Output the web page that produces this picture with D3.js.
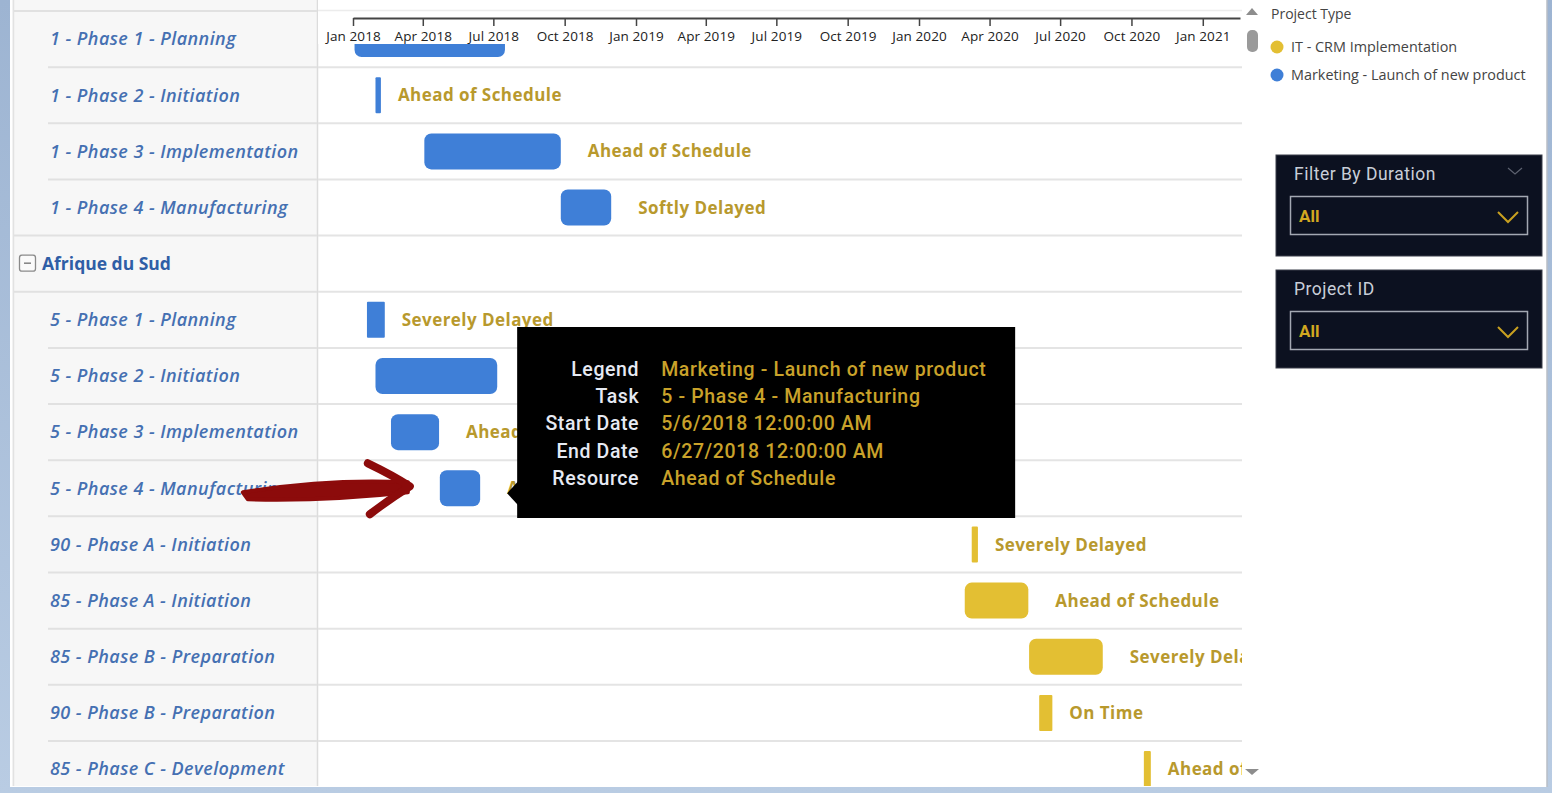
<!DOCTYPE html>
<html><head><meta charset="utf-8">
<script src="https://cdn.jsdelivr.net/npm/d3@7/dist/d3.min.js"></script>
<style>
html,body{margin:0;padding:0;background:#fff;overflow:hidden}
svg{display:block}
</style></head>
<body>
<svg id="chart" width="1552" height="793"></svg>
<script>
// ---------------- DATA ----------------
const rowLabels = [
  "1 - Phase 1 - Planning","1 - Phase 2 - Initiation","1 - Phase 3 - Implementation","1 - Phase 4 - Manufacturing",
  "Afrique du Sud",
  "5 - Phase 1 - Planning","5 - Phase 2 - Initiation","5 - Phase 3 - Implementation","5 - Phase 4 - Manufacturing",
  "90 - Phase A - Initiation","85 - Phase A - Initiation","85 - Phase B - Preparation","90 - Phase B - Preparation","85 - Phase C - Development"
];
const rowKinds = ["task","task","task","task","group","task","task","task","task","task","task","task","task","task"];
const projectTypes = ["IT - CRM Implementation","Marketing - Launch of new product"];
const rowProject = [1,1,1,1,null,1,1,1,1,0,0,0,0,0];
const startDates = ["2018-01-03","2018-01-30","2018-04-03","2018-09-26",null,"2018-01-19","2018-01-30","2018-02-19","2018-04-23","2020-03-09","2020-02-29","2020-05-22","2020-06-04","2020-10-17"];
const endDates   = ["2018-07-16","2018-02-06","2018-09-26","2018-11-30",null,"2018-02-11","2018-07-06","2018-04-22","2018-06-14","2020-03-17","2020-05-21","2020-08-25","2020-06-21","2020-10-26"];
const resources  = [null,"Ahead of Schedule","Ahead of Schedule","Softly Delayed",null,"Severely Delayed",null,"Ahead of Schedule","Ahead of Schedule","Severely Delayed","Ahead of Schedule","Severely Delayed","On Time","Ahead of Schedule"];
const axisDomain = ["2018-01-01","2021-02-18"];
const tooltipFields = ["Legend","Task","Start Date","End Date","Resource"];
const tooltipValues = ["Marketing - Launch of new product","5 - Phase 4 - Manufacturing","5/6/2018 12:00:00 AM","6/27/2018 12:00:00 AM","Ahead of Schedule"];
const tooltipRow = 8;
const filterTitles = ["Filter By Duration","Project ID"];
const filterValues = ["All","All"];

// ---------------- SETUP ----------------
const svg = d3.select("#chart");
const parse = d3.timeParse("%Y-%m-%d");
const W = 1552, H = 793;
const chartL = 318, chartR = 1242, bottom = 786;

const x = d3.scaleTime().domain(axisDomain.map(parse)).range([353, 1240]);
const y = d3.scaleBand().domain(d3.range(rowLabels.length)).range([11, 11 + 56.15 * rowLabels.length]);
const color = d3.scaleOrdinal().domain(projectTypes).range(["#e3bf33", "#3f7fd7"]);

// background frame
const defs = svg.append("defs");
const grad = defs.append("linearGradient").attr("id","frameGrad").attr("x1",0).attr("y1",0).attr("x2",0).attr("y2",1);
grad.append("stop").attr("offset","0%").attr("stop-color","#9db4d2");
grad.append("stop").attr("offset","100%").attr("stop-color","#b9cce3");
svg.append("rect").attr("width",W).attr("height",H).attr("fill","url(#frameGrad)");
svg.append("rect").attr("x",10).attr("y",0).attr("width",1537).attr("height",bottom+1).attr("fill","#ffffff");
svg.append("line").attr("x1",1547).attr("x2",1547).attr("y1",0).attr("y2",bottom+1).attr("stroke","#b9bec6").attr("stroke-width",1.5);

// left panel
svg.append("rect").attr("x",12).attr("y",0).attr("width",chartL-12).attr("height",bottom).attr("fill","#f7f7f7");
svg.append("line").attr("x1",13.5).attr("x2",13.5).attr("y1",0).attr("y2",bottom).attr("stroke","#e2e2e2").attr("stroke-width",1.5);
svg.append("line").attr("x1",chartL-0.5).attr("x2",chartL-0.5).attr("y1",0).attr("y2",bottom).attr("stroke","#dcdcdc").attr("stroke-width",1.5);

// row separators
const sepRows = d3.range(rowLabels.length);
svg.append("g").selectAll("line.sepL").data(sepRows).join("line")
  .attr("x1", i => (rowKinds[i] === "group" || (i > 0 && rowKinds[i-1] === "group") || i === 0) ? 14 : 48)
  .attr("x2", chartL - 1)
  .attr("y1", i => y(i)).attr("y2", i => y(i))
  .attr("stroke","#e1e1e1").attr("stroke-width",2);

const chartG = svg.append("g");
defs.append("clipPath").attr("id","chartClip").append("rect").attr("x",chartL).attr("y",0).attr("width",chartR-chartL).attr("height",bottom);
chartG.attr("clip-path","url(#chartClip)");
chartG.selectAll("line.sepR").data(sepRows).join("line")
  .attr("x1", chartL).attr("x2", chartR)
  .attr("y1", i => y(i)).attr("y2", i => y(i))
  .attr("stroke","#e4e4e4").attr("stroke-width",2);

// bars
const barRows = d3.range(rowLabels.length).filter(i => startDates[i]);
const barH = 36;
chartG.selectAll("rect.bar").data(barRows).join("rect")
  .attr("x", i => x(parse(startDates[i])))
  .attr("width", i => Math.max(4, x(parse(endDates[i])) - x(parse(startDates[i]))))
  .attr("y", i => y(i) + y.bandwidth()/2 - barH/2)
  .attr("height", barH)
  .attr("rx", i => (x(parse(endDates[i])) - x(parse(startDates[i]))) < 20 ? 1 : 7)
  .attr("fill", i => color(projectTypes[rowProject[i]]));

// bar labels
chartG.selectAll("text.blab").data(barRows.filter(i => resources[i])).join("text")
  .attr("x", i => { const w = x(parse(endDates[i])) - x(parse(startDates[i])); return x(parse(endDates[i])) + (w < 20 ? 17 : 27); })
  .attr("y", i => y(i) + y.bandwidth()/2)
  .attr("dy","0.36em")
  .attr("font-family","'Open Sans', Roboto, sans-serif")
  .attr("font-weight",700).attr("font-size",17).attr("letter-spacing","0.45")
  .attr("fill","#b8992d")
  .text(i => resources[i]);

// header covering first row (scrolled)
chartG.append("rect").attr("x",chartL).attr("y",0).attr("width",chartR-chartL).attr("height",44).attr("fill","#fff");
chartG.append("line").attr("x1",chartL).attr("x2",chartR).attr("y1",10.5).attr("y2",10.5).attr("stroke","#ececec").attr("stroke-width",1.5);

// axis
const axis = d3.axisBottom(x).ticks(d3.timeMonth.every(3)).tickFormat(d3.timeFormat("%b %Y")).tickSize(8).tickSizeOuter(0).tickPadding(5);
const axG = svg.append("g").attr("transform","translate(0,18)").call(axis);
axG.select(".domain").attr("stroke","#444").attr("stroke-width",2);
axG.selectAll(".tick line").attr("stroke","#444").attr("stroke-width",1.5);
axG.selectAll(".tick text").attr("font-family","'Open Sans', sans-serif").attr("font-size",13.5).attr("fill","#222").attr("letter-spacing","0.1");

// row labels (left)
svg.append("g").selectAll("text.rl").data(d3.range(rowLabels.length)).join("text")
  .attr("x", i => rowKinds[i] === "group" ? 42 : 50)
  .attr("y", i => y(i) + y.bandwidth()/2)
  .attr("dy","0.35em")
  .attr("font-family","'Open Sans', sans-serif")
  .attr("font-style", i => rowKinds[i] === "group" ? "normal" : "italic")
  .attr("font-weight", i => rowKinds[i] === "group" ? 700 : 600)
  .attr("font-size", i => rowKinds[i] === "group" ? 17.5 : 18)
  .attr("letter-spacing", i => rowKinds[i] === "group" ? "0" : "0.45")
  .attr("fill", i => rowKinds[i] === "group" ? "#2f5ea6" : "#4570b2")
  .text(i => rowLabels[i]);

// group collapse icon
d3.range(rowLabels.length).filter(i => rowKinds[i] === "group").forEach(i => {
  const cy = y(i) + y.bandwidth()/2;
  svg.append("rect").attr("x",19.5).attr("y",cy-8.5).attr("width",16).attr("height",16).attr("rx",2.5)
    .attr("fill","#fafafa").attr("stroke","#8a8a8a").attr("stroke-width",1.3);
  svg.append("line").attr("x1",24).attr("x2",31).attr("y1",cy-0.5).attr("y2",cy-0.5).attr("stroke","#777").attr("stroke-width",1.4);
});

// scrollbar
svg.append("path").attr("d","M1246,15 L1252,8 L1258,15 Z").attr("fill","#8d8d8d");
svg.append("rect").attr("x",1247).attr("y",30).attr("width",11).attr("height",22).attr("rx",5).attr("fill","#9a9a9a");
svg.append("path").attr("d","M1245,769 L1259,769 L1252,775 Z").attr("fill","#8d8d8d");

// legend
const lg = svg.append("g").attr("font-family","'Open Sans', sans-serif");
lg.append("text").attr("x",1271).attr("y",14).attr("dy","0.35em").attr("font-size",14).attr("fill","#444").text("Project Type");
lg.selectAll("g.li").data(projectTypes).join("g")
  .attr("transform",(d,i)=>`translate(1277,${47 + i*28})`)
  .each(function(d){
    const g = d3.select(this);
    g.append("circle").attr("r",6.5).attr("fill",color(d));
    g.append("text").attr("x",14).attr("dy","0.35em").attr("font-size",14.4).attr("fill","#444").text(d);
  });

// filter panels
filterTitles.forEach((t,i) => {
  const top = 155 + i*115;
  const g = svg.append("g");
  g.append("rect").attr("x",1276).attr("y",top).attr("width",266).attr("height",i===0?101:98).attr("fill","#0c1120").attr("stroke","#3a3f4a").attr("stroke-width",1);
  g.append("text").attr("x",1294).attr("y",top+19).attr("dy","0.35em").attr("font-family","Roboto, sans-serif").attr("font-size",17.5).attr("letter-spacing","0.5").attr("fill","#c9ced8").text(t);
  if (i===0) g.append("polyline").attr("points",`1508,${top+13} 1515,${top+19} 1522,${top+13}`).attr("fill","none").attr("stroke","#5d6270").attr("stroke-width",1.2);
  g.append("rect").attr("x",1290.5).attr("y",top+41.5).attr("width",237).attr("height",38).attr("fill","#0c1120").attr("stroke","#a3a8b2").attr("stroke-width",1.5);
  g.append("text").attr("x",1299).attr("y",top+61).attr("dy","0.35em").attr("font-family","Roboto, sans-serif").attr("font-weight",700).attr("font-size",17).attr("fill","#d2a820").text(filterValues[i]);
  g.append("polyline").attr("points",`1498,${top+57} 1508,${top+67} 1518,${top+57}`).attr("fill","none").attr("stroke","#c9a020").attr("stroke-width",2);
});

// red annotation arrow pointing at hovered bar
const tipX = x(parse(startDates[tooltipRow])) - 32;
const tipY = y(tooltipRow) + y.bandwidth()/2;
const arr = svg.append("g").attr("fill","#8c0b0b").attr("stroke","#8c0b0b").attr("stroke-linecap","round").attr("stroke-linejoin","round");
arr.append("path").attr("d",`M${tipX-165},${tipY+4} Q${tipX-80},${tipY-10} ${tipX},${tipY-6} L${tipX},${tipY+4} Q${tipX-80},${tipY+13} ${tipX-160},${tipY+11} Z`).attr("stroke-width",4);
arr.append("path").attr("d",`M${tipX-40},${tipY-25} Q${tipX-15},${tipY-13} ${tipX+2},${tipY-2} Q${tipX-20},${tipY+12} ${tipX-38},${tipY+26}`).attr("fill","none").attr("stroke-width",8);

// tooltip
const tx = x(parse(endDates[tooltipRow])) + 37, ty = 327;
const tt = svg.append("g");
tt.append("rect").attr("x",tx).attr("y",ty).attr("width",498).attr("height",191).attr("fill","#000");
tt.append("path").attr("d",`M${tx+1},${tipY-7} L${tx-10},${tipY+5} L${tx+1},${tipY+17} Z`).attr("fill","#000");
tt.selectAll("text.tk").data(tooltipFields).join("text")
  .attr("x",tx+122).attr("y",(d,i)=>ty+42+i*27.3).attr("dy","0.35em")
  .attr("text-anchor","end").attr("font-family","Roboto, sans-serif").attr("font-weight",500).attr("font-size",19.5)
  .attr("letter-spacing","0.6").attr("fill","#e6eaf3").text(d=>d);
tt.selectAll("text.tv").data(tooltipValues).join("text")
  .attr("x",tx+144).attr("y",(d,i)=>ty+42+i*27.3).attr("dy","0.35em")
  .attr("font-family","Roboto, sans-serif").attr("font-weight",500).attr("font-size",19.5)
  .attr("letter-spacing","0.65").attr("fill","#c9a22a").text(d=>d);
</script>
</body></html>
